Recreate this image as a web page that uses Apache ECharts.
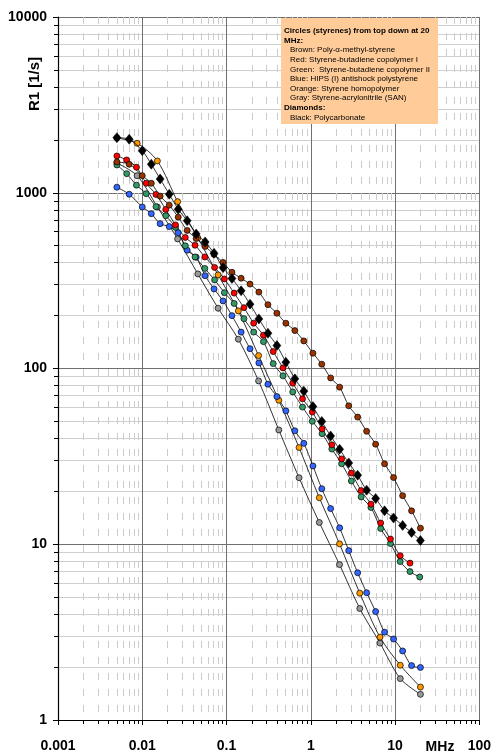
<!DOCTYPE html>
<html><head><meta charset="utf-8">
<script src="https://cdn.jsdelivr.net/npm/echarts@6/dist/echarts.min.js"></script>
<style>html,body{margin:0;padding:0;background:#fff}#c{width:494px;height:754px}</style>
</head><body><div id="c"></div>
<script>
// Frequencies (MHz)
const freqMain = [0.005,0.007,0.01,0.0128,0.0163,0.0209,0.0267,0.0341,0.0436,0.0557,0.0711,0.0909,0.116,0.149,0.19,0.242,0.31,0.396,0.506,0.647,0.826,1.06,1.35,1.72,2.2,2.82,3.6,4.6,5.88,7.51,9.6,12.3,15.7,20];
const freqRG = [0.005,0.00653,0.00853,0.01114,0.01455,0.019,0.02481,0.0324,0.04232,0.05527,0.07218,0.09427,0.1231,0.1608,0.21,0.2742,0.3581,0.4677,0.6108,0.7977,1.042,1.361,1.777,2.321,3.031,3.958,5.17,6.751,8.817,11.51,15.04,19.64];
const freqCoarse = [0.005,0.00869,0.01511,0.02627,0.04568,0.07942,0.1381,0.2401,0.4174,0.7257,1.262,2.194,3.814,6.631,11.53,20];

// R1 values [1/s]
const brown = [1497,1453,1251,1132,956.6,850.1,726.4,610.4,549.5,494.9,445.7,401.3,352.9,326.3,302.1,272,230.9,206.3,181,164.3,143.5,122.2,105.8,88.4,78.3,61.3,52.9,43.9,37.1,28.7,23.96,18.9,15.5,12.35];
const black = [2058,2015,1736,1453,1198,980.6,805.6,692.8,583,525,452.9,374.9,325.4,277,232.4,191.5,158.8,135,108.6,87.3,74.3,60.7,50,41.3,34.7,29,24.7,20.3,18.2,15.5,14.1,12.8,11.66,10.5];
const blue = [1075,980.6,830.2,760.4,667.3,641.7,592.9,470.9,429.6,337.3,283.7,242.4,199.9,161.1,129.6,107.6,81.4,69.2,57.4,44.2,37.5,27.9,20.7,15.96,12.4,9.2,6.88,5.3,4.14,3.16,2.89,2.47,2.04,1.99];
const red = [1620,1537,1397,1132,977.9,803.5,656.1,556.8,502.8,431.3,376,323.3,268.5,222,181.2,154.6,124.8,100.8,82.5,67.2,56.5,45.3,36.8,30.6,25.4,20.2,16.9,13.2,10.7,8.61,7.81];
const green = [1439,1284,1105,988.3,833.5,739.8,634.9,499.4,431.3,371,319.2,270.2,234.6,192.2,161.1,142.2,106.6,90.8,73.6,60.3,50.1,42.6,34.8,28.7,22.9,18.6,16.2,12.3,10.1,7.97,6.99,6.51];
const orange = [2050,1912,1517,890.1,553.3,340.8,212.6,118.4,66,35.5,18.4,10.05,5.27,2.96,2.05,1.54];
const gray = [1477,1251,830.2,546.1,345.3,220.3,146.8,85,44.7,23.9,13.3,7.66,4.31,2.74,1.72,1.4];

// Tick labels
const xTickLabels = ['0.001','0.01','0.1','1','10','100'];
const yTickLabels = ['1','10','100','1000','10000'];
const xUnit = 'MHz';
const yName = 'R1 [1/s]';

const legendLines = [
  ['Circles (styrenes) from top down at 20', true, 0],
  ['MHz:', true, 0],
  ['Brown: Poly-\u03b1-methyl-styrene', false, 1],
  ['Red: Styrene-butadiene copolymer I', false, 1],
  ['Green:  Styrene-butadiene copolymer II', false, 1],
  ['Blue: HIPS (I) antishock polystyrene', false, 1],
  ['Orange: Styrene homopolymer', false, 1],
  ['Gray: Styrene-acrylonitrile (SAN)', false, 1],
  ['Diamonds:', true, 0],
  ['Black: Polycarbonate', false, 1]
];

function pairs(fx, vy){ const n=Math.min(fx.length,vy.length); const out=[]; for(let i=0;i<n;i++) out.push([fx[i],vy[i]]); return out; }

function circleSeries(name, color, fx, vy){
  return {
    name, type:'line', data: pairs(fx,vy), smooth:0.3,
    symbol:'circle', symbolSize:6,
    lineStyle:{color:'#000', width:0.8},
    itemStyle:{color:color, borderColor:'#000', borderWidth:0.7},
    emphasis:{disabled:true}, z:3
  };
}

const FONT = '"Liberation Sans", Arial, Helvetica, sans-serif';
const chart = echarts.init(document.getElementById('c'), null, {renderer:'canvas'});

const graphics = [];
graphics.push({type:'text', x:35, y:84, rotation:Math.PI/2,
  style:{text:yName, font:'bold 15px '+FONT, fill:'#000', textAlign:'center', textVerticalAlign:'middle'}});
graphics.push({type:'text', x:440, y:747,
  style:{text:xUnit, font:'bold 14px '+FONT, fill:'#000', textAlign:'center', textVerticalAlign:'middle'}});
graphics.push({type:'rect', shape:{x:281, y:18, width:157, height:106}, style:{fill:'#FFCC99', stroke:null}, z:10});
legendLines.forEach((l,i)=>{
  graphics.push({type:'text', x:284 + (l[2]?6:0), y:31 + i*9.6, z:11,
    style:{text:l[0], font:(l[1]?'bold ':'')+'8px '+FONT, fill:'#000', textVerticalAlign:'middle'}});
});

chart.setOption({
  animation:false,
  backgroundColor:'#fff',
  grid:{left:58, right:12, top:17, bottom:34, containLabel:false},
  xAxis:{
    type:'log', logBase:10, min:0.001, max:100,
    axisLine:{show:true, onZero:false, lineStyle:{color:'#000', width:1.2}},
    axisTick:{show:true, length:5, lineStyle:{color:'#000'}},
    minorTick:{show:true, splitNumber:9, length:4, lineStyle:{color:'#000'}},
    splitLine:{show:true, lineStyle:{color:'#707070', width:1}},
    minorSplitLine:{show:true, lineStyle:{color:'#cccccc', width:1, type:[7,9]}},
    axisLabel:{margin:19, color:'#000', fontSize:14, fontWeight:'bold', fontFamily:FONT,
      formatter:(v,i)=>xTickLabels[i] ?? ''}
  },
  yAxis:{
    type:'log', logBase:10, min:1, max:10000,
    axisLine:{show:true, onZero:false, lineStyle:{color:'#000', width:1.2}},
    axisTick:{show:true, length:5, lineStyle:{color:'#000'}},
    minorTick:{show:true, splitNumber:9, length:4, lineStyle:{color:'#000'}},
    splitLine:{show:true, lineStyle:{color:'#707070', width:1}},
    minorSplitLine:{show:true, lineStyle:{color:'#cfcfcf', width:1}},
    axisLabel:{margin:11, color:'#000', fontSize:14, fontWeight:'bold', fontFamily:FONT,
      formatter:(v,i)=>yTickLabels[i] ?? ''}
  },
  series:[
    circleSeries('Gray','#999999',freqCoarse,gray),
    circleSeries('Orange','#FF9900',freqCoarse,orange),
    circleSeries('Blue','#3366FF',freqMain,blue),
    circleSeries('Green','#339966',freqRG,green),
    circleSeries('Red','#FF0000',freqRG,red),
    circleSeries('Brown','#993300',freqMain,brown),
    {
      name:'Black', type:'line', data:pairs(freqMain,black), smooth:0.3,
      symbol:'diamond', symbolSize:[8,10],
      lineStyle:{color:'#000', width:0.8},
      itemStyle:{color:'#000', borderColor:'#000', borderWidth:0.5},
      emphasis:{disabled:true}, z:4
    }
  ],
  graphic: graphics
});
</script>
</body></html>
